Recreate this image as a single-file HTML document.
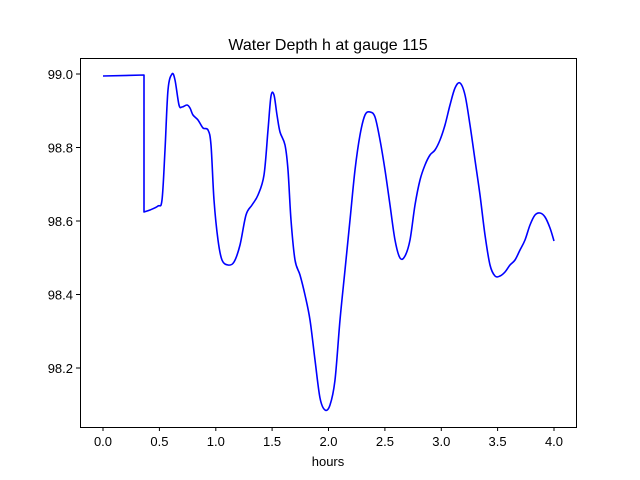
<!DOCTYPE html>
<html><head><meta charset="utf-8"><style>body{margin:0;background:#fff}svg{display:block}text{font-family:"Liberation Sans","DejaVu Sans",sans-serif;font-size:13px;fill:#000}</style></head>
<body>
<svg width="640" height="480" viewBox="0 0 640 480">
<rect width="640" height="480" fill="#fff"/>
<text x="328" y="50" text-anchor="middle" style="font-size:16px">Water Depth h at gauge 115</text>
<path id="c" fill="none" stroke="#0000ff" stroke-width="1.6" stroke-linejoin="round" d="M103,76 L144,75 L144,212"/>
<rect x="80.5" y="58.5" width="496" height="369" fill="none" stroke="#000" stroke-width="1"/>
<g stroke="#000" stroke-width="1">
<line x1="103" y1="427" x2="103" y2="431"/><line x1="159.4" y1="427" x2="159.4" y2="431"/><line x1="215.8" y1="427" x2="215.8" y2="431"/><line x1="272.1" y1="427" x2="272.1" y2="431"/><line x1="328.5" y1="427" x2="328.5" y2="431"/><line x1="384.9" y1="427" x2="384.9" y2="431"/><line x1="441.3" y1="427" x2="441.3" y2="431"/><line x1="497.6" y1="427" x2="497.6" y2="431"/><line x1="554" y1="427" x2="554" y2="431"/>
<line x1="76" y1="74" x2="80" y2="74"/><line x1="76" y1="147.5" x2="80" y2="147.5"/><line x1="76" y1="221" x2="80" y2="221"/><line x1="76" y1="294.5" x2="80" y2="294.5"/><line x1="76" y1="368" x2="80" y2="368"/>
</g>
<g text-anchor="middle">
<text x="103" y="446">0.0</text><text x="159.4" y="446">0.5</text><text x="215.8" y="446">1.0</text><text x="272.1" y="446">1.5</text><text x="328.5" y="446">2.0</text><text x="384.9" y="446">2.5</text><text x="441.3" y="446">3.0</text><text x="497.6" y="446">3.5</text><text x="554" y="446">4.0</text>
<text x="328" y="466">hours</text>
</g>
<g text-anchor="end">
<text x="73" y="79">99.0</text><text x="73" y="152.5">98.8</text><text x="73" y="226">98.6</text><text x="73" y="299.5">98.4</text><text x="73" y="373">98.2</text>
</g>
</svg>
<script>
var s="144,212 150,210 158,206 162,200 165,150 168,90 172,74 175,80 179,105 182,107 187,105 190,108 193,115 198,120 203,128 208,130 211,145 214,200 218,240 222,260 228,265 234,262 240,245 246,215 252,205 258,195 264,175 268,130 271,96 274,95 277,115 280,132 285,145 288,170 291,220 295,260 300,275 305,295 310,320 315,360 320,398 325,410 330,405 335,380 340,320 345,270 350,220 355,170 360,135 365,115 370,112 375,117 380,140 385,170 390,205 395,240 400,258 405,256 410,240 415,205 420,180 425,165 430,155 435,150 440,140 445,125 450,105 455,88 460,83 465,95 470,125 475,160 480,195 485,235 490,265 495,276 500,276 505,272 510,265 515,260 520,250 525,240 530,225 535,215 540,213 545,217 550,228 554,241";
var p=s.split(" ").map(function(a){return a.split(",").map(Number)});
var d="M103,76 L144,75 L144,212";
for(var i=0;i<p.length-1;i++){var a=p[i>0?i-1:i],b=p[i],c=p[i+1],e=p[i+2<p.length?i+2:i+1];
var c1=[b[0]+(c[0]-a[0])/6,b[1]+(c[1]-a[1])/6],c2=[c[0]-(e[0]-b[0])/6,c[1]-(e[1]-b[1])/6];
d+=" C"+c1+" "+c2+" "+c;}
document.getElementById("c").setAttribute("d",d);
</script>
</body></html>
